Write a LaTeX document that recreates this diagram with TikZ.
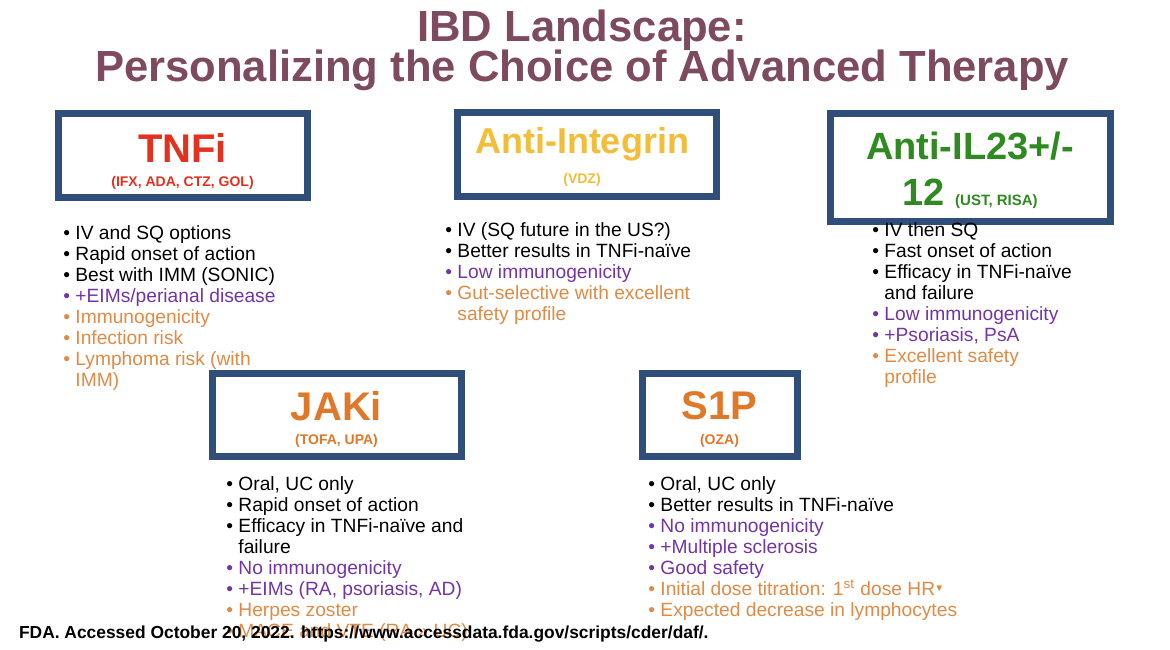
\documentclass[tikz,border=0pt]{standalone}
\usepackage{amssymb}
\usepackage{fontspec}
\setmainfont{Liberation Sans}
\usepackage{xcolor}
\usetikzlibrary{positioning}
\definecolor{titlecol}{HTML}{7D4A5E}
\definecolor{boxblue}{HTML}{2F4E7A}
\definecolor{tnfred}{HTML}{E2321F}
\definecolor{intyellow}{HTML}{F2BE3A}
\definecolor{ilgreen}{HTML}{2F8A22}
\definecolor{jakorange}{HTML}{E0782A}
\definecolor{purp}{HTML}{7135A5}
\definecolor{orng}{HTML}{E08A45}
\tikzstyle{drugbox} = [draw=boxblue, line width=3.5pt, fill=white, inner sep=0pt]
\tikzstyle{bullets} = [anchor=north west, align=left, inner sep=0pt, font=\fontsize{9.6}{10.5}\selectfont]
\newcommand{\itm}[2]{\textcolor{#1}{\textbullet\ #2}}
\newcommand{\cnt}[2]{\textcolor{#1}{\hphantom{\textbullet\ }#2}}

\begin{document}
\begin{tikzpicture}[x=0.5pt, y=-0.5pt]
        \useasboundingbox (0,0) rectangle (1170,649);

        % Title
        \node[titlecol, font=\bfseries\fontsize{21.8}{22}\selectfont] (title1) at (582,30) {IBD Landscape:};
        \node[titlecol, font=\bfseries\fontsize{21.8}{22}\selectfont] (title2) at (582,70) {Personalizing the Choice of Advanced Therapy};

        % Boxes
        \node[drugbox, minimum width=124.5pt, minimum height=42pt] (tnfi) at (182.5,155) {};
        \node[tnfred, font=\bfseries\fontsize{20}{20}\selectfont] (tnfilab) at (182.5,148) {TNFi};
        \node[tnfred, font=\bfseries\fontsize{7}{8}\selectfont] (tnfisub) at (182.5,183) {(IFX, ADA, CTZ, GOL)};

        \node[drugbox, minimum width=129.5pt, minimum height=42pt] (integ) at (586.5,154) {};
        \node[intyellow, font=\bfseries\fontsize{18}{20}\selectfont] (integlab) at (582,144) {Anti-Integrin};
        \node[intyellow, font=\bfseries\fontsize{7}{8}\selectfont] (integsub) at (582,180) {(VDZ)};

        \node[drugbox, minimum width=140pt, minimum height=54pt] (il) at (970,167) {};
        \node[ilgreen, font=\bfseries\fontsize{19}{20}\selectfont] (illab) at (970,146) {Anti-IL23+/-};
        \node[ilgreen, anchor=base] (ilsub) at (970,205) {\bfseries\fontsize{19}{20}\selectfont 12 \fontsize{7.5}{8}\selectfont(UST, RISA)};

        \node[drugbox, minimum width=124.5pt, minimum height=41.5pt] (jaki) at (336.5,414.5) {};
        \node[jakorange, font=\bfseries\fontsize{20}{20}\selectfont] (jakilab) at (336.5,406) {JAKi};
        \node[jakorange, font=\bfseries\fontsize{7}{8}\selectfont] (jakisub) at (336.5,441) {(TOFA, UPA)};

        \node[drugbox, minimum width=77.5pt, minimum height=41.5pt] (sip) at (719.5,414.5) {};
        \node[jakorange, font=\bfseries\fontsize{20}{20}\selectfont] (siplab) at (719.5,406) {S1P};
        \node[jakorange, font=\bfseries\fontsize{7}{8}\selectfont] (sipsub) at (719.5,441) {(OZA)};

        % Lists
        \node[bullets] (tnfilist) at (63,225) {%
          \itm{black}{IV and SQ options}\\
          \itm{black}{Rapid onset of action}\\
          \itm{black}{Best with IMM (SONIC)}\\
          \itm{purp}{+EIMs/perianal disease}\\
          \itm{orng}{Immunogenicity}\\
          \itm{orng}{Infection risk}\\
          \itm{orng}{Lymphoma risk (with}\\
          \cnt{orng}{IMM)}};

        \node[bullets] (integlist) at (445,222) {%
          \itm{black}{IV (SQ future in the US?)}\\
          \itm{black}{Better results in TNFi-naïve}\\
          \itm{purp}{Low immunogenicity}\\
          \itm{orng}{Gut-selective with excellent}\\
          \cnt{orng}{safety profile}};

        \node[bullets] (illist) at (872,222) {%
          \itm{black}{IV then SQ}\\
          \itm{black}{Fast onset of action}\\
          \itm{black}{Efficacy in TNFi-naïve}\\
          \cnt{black}{and failure}\\
          \itm{purp}{Low immunogenicity}\\
          \itm{purp}{+Psoriasis, PsA}\\
          \itm{orng}{Excellent safety}\\
          \cnt{orng}{profile}};

        \node[bullets] (jakilist) at (226,476) {%
          \itm{black}{Oral, UC only}\\
          \itm{black}{Rapid onset of action}\\
          \itm{black}{Efficacy in TNFi-naïve and}\\
          \cnt{black}{failure}\\
          \itm{purp}{No immunogenicity}\\
          \itm{purp}{+EIMs (RA, psoriasis, AD)}\\
          \itm{orng}{Herpes zoster}\\
          \itm{orng}{MACE and VTE (RA >> UC)}};

        \node[bullets] (siplist) at (648,476) {%
          \itm{black}{Oral, UC only}\\
          \itm{black}{Better results in TNFi-naïve}\\
          \itm{purp}{No immunogenicity}\\
          \itm{purp}{+Multiple sclerosis}\\
          \itm{purp}{Good safety}\\
          \itm{orng}{Initial dose titration: 1\textsuperscript{st} dose HR\raisebox{0.4ex}{$\scriptscriptstyle\blacktriangledown$}}\\
          \itm{orng}{Expected decrease in lymphocytes}};

        % Footer
        \node[anchor=west, font=\bfseries\fontsize{8.7}{9}\selectfont] (footer) at (12,634)
          {FDA. Accessed October 20, 2022. https://www.accessdata.fda.gov/scripts/cder/daf/.};
      \end{tikzpicture}
\end{document}
